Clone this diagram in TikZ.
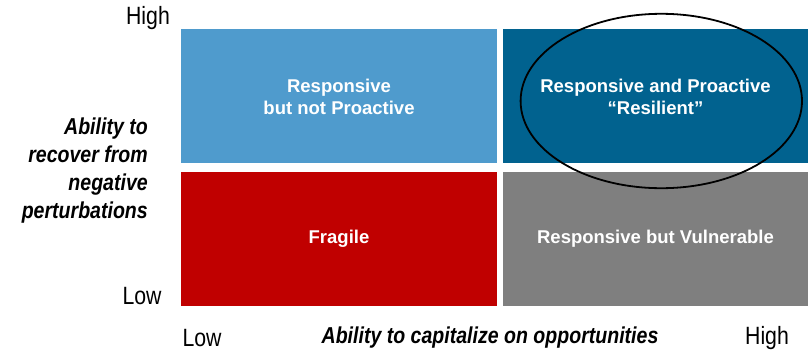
\documentclass[tikz,border=0pt]{standalone}
\usepackage{fontspec}
\setmainfont{Liberation Sans}
\newfontfamily\narrowsf[FakeStretch=0.85]{Liberation Sans}
\usepackage{tikz}
\usetikzlibrary{positioning}

\definecolor{lightblue}{HTML}{4F9BCD}
\definecolor{darkblue}{HTML}{01628F}
\definecolor{fragred}{HTML}{C00000}
\definecolor{vulgrey}{HTML}{7F7F7F}

\begin{document}
\begin{tikzpicture}[x=1pt,y=-1pt,
    quad/.style={inner sep=0pt,minimum height=134pt,text=white,align=center,
      font=\bfseries\fontsize{18.5}{21.5}\selectfont},
    axistick/.style={inner sep=0pt,font=\narrowsf\fontsize{25}{28}\selectfont},
    axistitle/.style={inner sep=0pt,font=\narrowsf\bfseries\itshape\fontsize{23}{27.7}\selectfont}]
      \useasboundingbox (0,0) rectangle (808,351);
      % the four quadrants
      \node[quad,fill=lightblue,minimum width=316pt](rnp) at (339,96){\\[-6pt]Responsive\\but not Proactive};
      \node[quad,fill=darkblue,minimum width=305pt](rap) at (655.5,96){\\[-6pt]Responsive and Proactive\\“Resilient”};
      \node[quad,fill=fragred,minimum width=316pt](frag) at (339,239){Fragile};
      \node[quad,fill=vulgrey,minimum width=305pt](rbv) at (655.5,239){Responsive but Vulnerable};
      \draw[line width=1.8pt] (661.3,101) ellipse [x radius=140.7,y radius=87.2];
      % axes
      \node[axistick](yhigh) at (148,18){High};
      \node[axistick](ylow) at (142,296){Low};
      \node[axistick](xlow) at (202,338){Low};
      \node[axistick](xhigh) at (767,338){High};
      \node[axistitle,align=right,anchor=east](ytitle) at (148,170.5){Ability to\\recover from\\negative\\perturbations};
      \node[axistitle](xtitle) at (490,338){Ability to capitalize on opportunities};
    \end{tikzpicture}
\end{document}
